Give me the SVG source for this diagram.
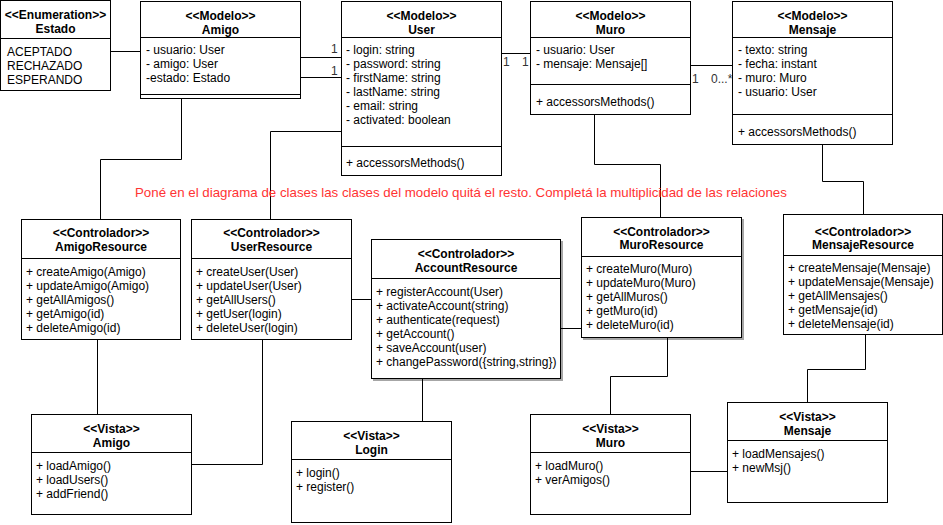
<svg xmlns="http://www.w3.org/2000/svg" width="943" height="525" viewBox="0 0 943 525">
<style>
.box{fill:#fff;stroke:#000;stroke-width:1}
.sep{stroke:#000;stroke-width:1;fill:none}
.t{font-family:"Liberation Sans",Arial,sans-serif;font-size:12px;fill:#000}
.h{font-family:"Liberation Sans",Arial,sans-serif;font-size:12px;font-weight:bold;fill:#000;text-anchor:middle}
.c{fill:none;stroke:#000;stroke-width:1}
.lbl{font-family:"Liberation Sans",Arial,sans-serif;font-size:12px;fill:#333}
.note{font-family:"Liberation Sans",Arial,sans-serif;font-size:13.3px;fill:#FF3333}
</style>
<defs>
<filter id="sh" x="-5%" y="-5%" width="115%" height="115%">
<feDropShadow dx="2" dy="2" stdDeviation="0.6" flood-color="#000" flood-opacity="0.35"/>
</filter>
</defs>
<rect width="943" height="525" fill="#fff"/>

<g id="connectors">
<path class="c" d="M110.5,51.5H140.5"/>
<path class="c" d="M300.5,57.5H341.5"/>
<path class="c" d="M300.5,77.5H341.5"/>
<path class="c" d="M501.5,53.5H530.5"/>
<path class="c" d="M690.5,65.5H732.5"/>
<path class="c" d="M181.5,98.5V159.5H100.5V219.5"/>
<path class="c" d="M341.5,131.5H270.5V219.5"/>
<path class="c" d="M594.5,114.5V164.5H660.5V217.5"/>
<path class="c" d="M822.5,144.5V181.5H863.5V214.5"/>
<path class="c" d="M97.5,339.5V414.5"/>
<path class="c" d="M262.5,339.5V464.5H191.5"/>
<path class="c" d="M351.5,299.5H371.5"/>
<path class="c" d="M560.5,328.5H581.5"/>
<path class="c" d="M422.5,378.5V421.5"/>
<path class="c" d="M667.5,337.5V376.5H610.5V414.5"/>
<path class="c" d="M865.5,334.5V369.5H807.5V402.5"/>
<path class="c" d="M690.5,471.5H727.5"/>
<text class="lbl" x="331" y="53">1</text>
<text class="lbl" x="331" y="75">1</text>
<text class="lbl" x="503" y="66">1</text>
<text class="lbl" x="522" y="66">1</text>
<text class="lbl" x="692" y="83">1</text>
<text class="lbl" x="711" y="83">0...*</text>
</g>

<text class="note" x="135" y="197">Poné en el diagrama de clases las clases del modelo quitá el resto. Completá la multiplicidad de las relaciones</text>

<g id="estado">
<rect class="box" x="0.5" y="0.5" width="110" height="90"/>
<path class="sep" d="M0.5,38.5H110.5"/>
<text class="h" x="55.5" y="19">&lt;&lt;Enumeration&gt;&gt;</text>
<text class="h" x="55.5" y="33">Estado</text>
<text class="t" x="7" y="56">ACEPTADO</text>
<text class="t" x="7" y="70">RECHAZADO</text>
<text class="t" x="7" y="84">ESPERANDO</text>
</g>

<g id="amigo-modelo">
<rect class="box" x="140.5" y="1.5" width="160" height="97"/>
<path class="sep" d="M140.5,37.5H300.5M140.5,94.5H300.5"/>
<text class="h" x="220.5" y="20">&lt;&lt;Modelo&gt;&gt;</text>
<text class="h" x="220.5" y="34">Amigo</text>
<text class="t" x="146" y="54">- usuario: User</text>
<text class="t" x="146" y="68">- amigo: User</text>
<text class="t" x="146" y="82">-estado: Estado</text>
</g>

<g id="user-modelo">
<rect class="box" x="341.5" y="1.5" width="160" height="174"/>
<path class="sep" d="M341.5,37.5H501.5M341.5,146.5H501.5"/>
<text class="h" x="421.5" y="20">&lt;&lt;Modelo&gt;&gt;</text>
<text class="h" x="421.5" y="34">User</text>
<text class="t" x="346" y="54">- login: string</text>
<text class="t" x="346" y="68">- password: string</text>
<text class="t" x="346" y="82">- firstName: string</text>
<text class="t" x="346" y="96">- lastName: string</text>
<text class="t" x="346" y="110">- email: string</text>
<text class="t" x="346" y="124">- activated: boolean</text>
<text class="t" x="346" y="167">+ accessorsMethods()</text>
</g>

<g id="muro-modelo">
<rect class="box" x="530.5" y="1.5" width="160" height="113"/>
<path class="sep" d="M530.5,37.5H690.5M530.5,84.5H690.5"/>
<text class="h" x="610.5" y="20">&lt;&lt;Modelo&gt;&gt;</text>
<text class="h" x="610.5" y="34">Muro</text>
<text class="t" x="536" y="54">- usuario: User</text>
<text class="t" x="536" y="68">- mensaje: Mensaje[]</text>
<text class="t" x="536" y="106">+ accessorsMethods()</text>
</g>

<g id="mensaje-modelo">
<rect class="box" x="732.5" y="1.5" width="160" height="143"/>
<path class="sep" d="M732.5,37.5H892.5M732.5,114.5H892.5"/>
<text class="h" x="812.5" y="20">&lt;&lt;Modelo&gt;&gt;</text>
<text class="h" x="812.5" y="34">Mensaje</text>
<text class="t" x="738" y="54">- texto: string</text>
<text class="t" x="738" y="68">- fecha: instant</text>
<text class="t" x="738" y="82">- muro: Muro</text>
<text class="t" x="738" y="96">- usuario: User</text>
<text class="t" x="738" y="136">+ accessorsMethods()</text>
</g>

<g id="amigo-resource">
<rect class="box" x="21.5" y="219.5" width="159" height="120"/>
<path class="sep" d="M21.5,258.5H180.5"/>
<text class="h" x="101" y="237">&lt;&lt;Controlador&gt;&gt;</text>
<text class="h" x="101" y="251">AmigoResource</text>
<text class="t" x="26" y="276">+ createAmigo(Amigo)</text>
<text class="t" x="26" y="290">+ updateAmigo(Amigo)</text>
<text class="t" x="26" y="304">+ getAllAmigos()</text>
<text class="t" x="26" y="318">+ getAmigo(id)</text>
<text class="t" x="26" y="332">+ deleteAmigo(id)</text>
</g>

<g id="user-resource">
<rect class="box" x="191.5" y="219.5" width="160" height="120"/>
<path class="sep" d="M191.5,258.5H351.5"/>
<text class="h" x="271.5" y="237">&lt;&lt;Controlador&gt;&gt;</text>
<text class="h" x="271.5" y="251">UserResource</text>
<text class="t" x="196" y="276">+ createUser(User)</text>
<text class="t" x="196" y="290">+ updateUser(User)</text>
<text class="t" x="196" y="304">+ getAllUsers()</text>
<text class="t" x="196" y="318">+ getUser(login)</text>
<text class="t" x="196" y="332">+ deleteUser(login)</text>
</g>

<g id="account-resource">
<g filter="url(#sh)">
<rect class="box" x="371.5" y="239.5" width="189" height="139"/>
<path class="sep" d="M371.5,278.5H560.5"/>
</g>
<text class="h" x="466" y="258">&lt;&lt;Controlador&gt;&gt;</text>
<text class="h" x="466" y="272">AccountResource</text>
<text class="t" x="376" y="296">+ registerAccount(User)</text>
<text class="t" x="376" y="310">+ activateAccount(string)</text>
<text class="t" x="376" y="324">+ authenticate(request)</text>
<text class="t" x="376" y="338">+ getAccount()</text>
<text class="t" x="376" y="352">+ saveAccount(user)</text>
<text class="t" x="376" y="366">+ changePassword({string,string})</text>
</g>

<g id="muro-resource">
<g filter="url(#sh)">
<rect class="box" x="581.5" y="217.5" width="160" height="120"/>
<path class="sep" d="M581.5,256.5H741.5"/>
</g>
<text class="h" x="661.5" y="236">&lt;&lt;Controlador&gt;&gt;</text>
<text class="h" x="661.5" y="249">MuroResource</text>
<text class="t" x="586" y="273">+ createMuro(Muro)</text>
<text class="t" x="586" y="287">+ updateMuro(Muro)</text>
<text class="t" x="586" y="301">+ getAllMuros()</text>
<text class="t" x="586" y="315">+ getMuro(id)</text>
<text class="t" x="586" y="329">+ deleteMuro(id)</text>
</g>

<g id="mensaje-resource">
<rect class="box" x="783.5" y="214.5" width="159" height="120"/>
<path class="sep" d="M783.5,255.5H942.5"/>
<text class="h" x="863" y="236">&lt;&lt;Controlador&gt;&gt;</text>
<text class="h" x="863" y="249">MensajeResource</text>
<text class="t" x="788" y="272">+ createMensaje(Mensaje)</text>
<text class="t" x="788" y="286">+ updateMensaje(Mensaje)</text>
<text class="t" x="788" y="300">+ getAllMensajes()</text>
<text class="t" x="788" y="314">+ getMensaje(id)</text>
<text class="t" x="788" y="328">+ deleteMensaje(id)</text>
</g>

<g id="vista-amigo">
<rect class="box" x="31.5" y="414.5" width="160" height="100"/>
<path class="sep" d="M31.5,452.5H191.5"/>
<text class="h" x="111.5" y="433">&lt;&lt;Vista&gt;&gt;</text>
<text class="h" x="111.5" y="447">Amigo</text>
<text class="t" x="36" y="470">+ loadAmigo()</text>
<text class="t" x="36" y="484">+ loadUsers()</text>
<text class="t" x="36" y="498">+ addFriend()</text>
</g>

<g id="vista-login">
<rect class="box" x="291.5" y="421.5" width="160" height="101"/>
<path class="sep" d="M291.5,459.5H451.5"/>
<text class="h" x="371.5" y="440">&lt;&lt;Vista&gt;&gt;</text>
<text class="h" x="371.5" y="454">Login</text>
<text class="t" x="296" y="477">+ login()</text>
<text class="t" x="296" y="491">+ register()</text>
</g>

<g id="vista-muro">
<rect class="box" x="530.5" y="414.5" width="160" height="100"/>
<path class="sep" d="M530.5,452.5H690.5"/>
<text class="h" x="610.5" y="433">&lt;&lt;Vista&gt;&gt;</text>
<text class="h" x="610.5" y="447">Muro</text>
<text class="t" x="535" y="470">+ loadMuro()</text>
<text class="t" x="535" y="484">+ verAmigos()</text>
</g>

<g id="vista-mensaje">
<rect class="box" x="727.5" y="402.5" width="160" height="100"/>
<path class="sep" d="M727.5,440.5H887.5"/>
<text class="h" x="807.5" y="421">&lt;&lt;Vista&gt;&gt;</text>
<text class="h" x="807.5" y="435">Mensaje</text>
<text class="t" x="732" y="458">+ loadMensajes()</text>
<text class="t" x="732" y="472">+ newMsj()</text>
</g>
</svg>
